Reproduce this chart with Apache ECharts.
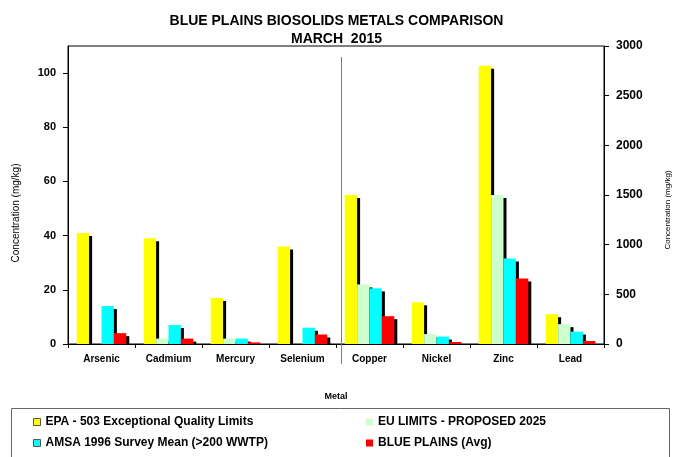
<!DOCTYPE html>
<html><head><meta charset="utf-8">
<script src="https://cdn.jsdelivr.net/npm/echarts@6/dist/echarts.min.js"></script>
<style>html,body{margin:0;padding:0;background:#fff}#c{width:673px;height:457px}</style>
</head><body><div id="c"></div>
<script>
// ---- data ----
const categories = ['Arsenic', 'Cadmium', 'Mercury', 'Selenium', 'Copper', 'Nickel', 'Zinc', 'Lead'];
// first four metals use the left axis (mg/kg, 0-110), last four the right axis (mg/kg, 0-3000)
const leftAxisMetalCount = 4;
const epaLimits  = [41, 39, 17, 36, 1500, 420, 2800, 300];
const euLimits   = [null, 2, 2, null, 600, 100, 1500, 200];
const amsaMean   = [14, 7, 2, 6, 560, 75, 860, 125];
const bluePlains = [4, 2, 0.6, 3.5, 280, 20, 660, 30];
const leftTickValues  = [0, 20, 40, 60, 80, 100];
const rightTickValues = [0, 500, 1000, 1500, 2000, 2500, 3000];
const seriesNames = ['EPA - 503 Exceptional Quality Limits', 'EU LIMITS - PROPOSED 2025',
                     'AMSA 1996 Survey Mean (>200 WWTP)', 'BLUE PLAINS (Avg)'];

const FONT = 'Liberation Sans, Arial, sans-serif';
const chart = echarts.init(document.getElementById('c'), null, {renderer: 'canvas'});

function part(arr, left) {
  return arr.map((v, i) => ((i < leftAxisMetalCount) === left && v != null) ? v : '-');
}
const colors = ['#FFFF00', '#CCFFCC', '#00FFFF', '#FF0000'];
const valueSets = [epaLimits, euLimits, amsaMean, bluePlains];
const series = [];
[true, false].forEach((left, ai) => {
  valueSets.forEach((vals, k) => {
    series.push({
      type: 'bar', name: seriesNames[k],
      xAxisIndex: ai, yAxisIndex: ai,
      data: part(vals, left),
      barGap: '0%', barCategoryGap: '26%',
      itemStyle: {color: colors[k], borderWidth: 0,
                  shadowColor: '#000', shadowOffsetX: 3, shadowOffsetY: 3, shadowBlur: 0},
      emphasis: {disabled: true}
    });
  });
});

const legendText = {fontFamily: FONT, fontSize: 12, fontWeight: 'bold', lineHeight: 14, color: '#000'};
const option = {
  animation: false,
  backgroundColor: '#fff',
  textStyle: {fontFamily: FONT, color: '#000'},
  title: {
    text: 'BLUE PLAINS BIOSOLIDS METALS COMPARISON\nMARCH  2015',
    left: 'center', top: 7,
    textStyle: {fontFamily: FONT, fontSize: 14, fontWeight: 'bold', lineHeight: 18, color: '#000'}
  },
  grid: {left: 68, right: 69, top: 46, bottom: 113, containLabel: false, outerBoundsMode: 'none',
         show: true, borderColor: '#000', borderWidth: 1},
  legend: [
    {data: [seriesNames[0], seriesNames[2]], orient: 'vertical', left: 33, top: 415, padding: 0,
     itemWidth: 7, itemHeight: 7, itemGap: 7, icon: 'rect', selectedMode: false,
     itemStyle: {shadowBlur: 0, shadowOffsetX: 0, shadowOffsetY: 0, borderWidth: 1, borderColor: '#555'},
     textStyle: legendText},
    {data: [seriesNames[1], seriesNames[3]], orient: 'vertical', left: 366, top: 415, padding: 0,
     itemWidth: 7, itemHeight: 7, itemGap: 7, icon: 'rect', selectedMode: false,
     itemStyle: {shadowBlur: 0, shadowOffsetX: 0, shadowOffsetY: 0},
     textStyle: legendText}
  ],
  xAxis: [
    {type: 'category', data: categories, gridIndex: 0, z: 6,
     name: 'Metal', nameLocation: 'middle', nameGap: 48,
     nameTextStyle: {fontFamily: FONT, fontSize: 9, fontWeight: 'bold', color: '#000'},
     axisLine: {lineStyle: {color: '#000', width: 1}},
     axisTick: {show: true, length: 4, lineStyle: {color: '#000'}},
     axisLabel: {fontFamily: FONT, fontSize: 10, fontWeight: 'bold', color: '#000', margin: 10}},
    {type: 'category', data: categories, gridIndex: 0, show: false}
  ],
  yAxis: [
    {type: 'value', position: 'left', min: 0, max: 110,
     name: 'Concentration (mg/kg)', nameLocation: 'middle', nameGap: 47, nameRotate: 90,
     nameTextStyle: {fontFamily: FONT, fontSize: 10, color: '#000', padding: [0, 0, 0, -36]},
     splitLine: {show: false},
     axisLine: {show: true, lineStyle: {color: '#000', width: 1}},
     axisTick: {show: true, length: 5, customValues: leftTickValues, lineStyle: {color: '#000'}},
     axisLabel: {customValues: leftTickValues, formatter: v => String(v),
                 fontFamily: FONT, fontSize: 11, fontWeight: 'bold', color: '#000', margin: 12}},
    {type: 'value', position: 'right', min: 0, max: 3000,
     name: 'Concentration (mg/kg)', nameLocation: 'middle', nameGap: 60, nameRotate: 90,
     nameTextStyle: {fontFamily: FONT, fontSize: 8, color: '#000', padding: [0, 0, 0, -30]},
     splitLine: {show: false},
     axisLine: {show: true, lineStyle: {color: '#000', width: 1}},
     axisTick: {show: true, length: 5, customValues: rightTickValues, lineStyle: {color: '#000'}},
     axisLabel: {customValues: rightTickValues, formatter: v => String(v),
                 fontFamily: FONT, fontSize: 12, fontWeight: 'bold', color: '#000', margin: 12}}
  ],
  series: series
};
chart.setOption(option);

// separator between the two axis groups, a mask so shadows stop at the baseline, and the legend frame
const pSel = chart.convertToPixel({xAxisIndex: 0}, categories[leftAxisMetalCount - 1]);
const pCu = chart.convertToPixel({xAxisIndex: 0}, categories[leftAxisMetalCount]);
const sepX = Math.round((pSel + pCu) / 2 + 5) + 0.5;
const baseY = chart.convertToPixel({yAxisIndex: 0}, 0);
const leftX = chart.convertToPixel({xAxisIndex: 0}, categories[0]) - (pCu - pSel) / 2;
const rightX = chart.convertToPixel({xAxisIndex: 0}, categories[categories.length - 1]) + (pCu - pSel) / 2;
chart.setOption({
  graphic: [
    {type: 'rect', silent: true, z: 4,
     shape: {x: leftX + 1, y: Math.round(baseY) + 1, width: rightX - leftX - 2, height: 5},
     style: {fill: '#fff'}},
    {type: 'line', silent: true, z: 10, shape: {x1: sepX, y1: 57, x2: sepX, y2: 364},
     style: {stroke: '#7f7f7f', lineWidth: 1}},
    {type: 'rect', silent: true, z: 0, shape: {x: 11.5, y: 408.5, width: 658, height: 60},
     style: {fill: 'none', stroke: '#666', lineWidth: 1}}
  ]
});
</script>
</body></html>
